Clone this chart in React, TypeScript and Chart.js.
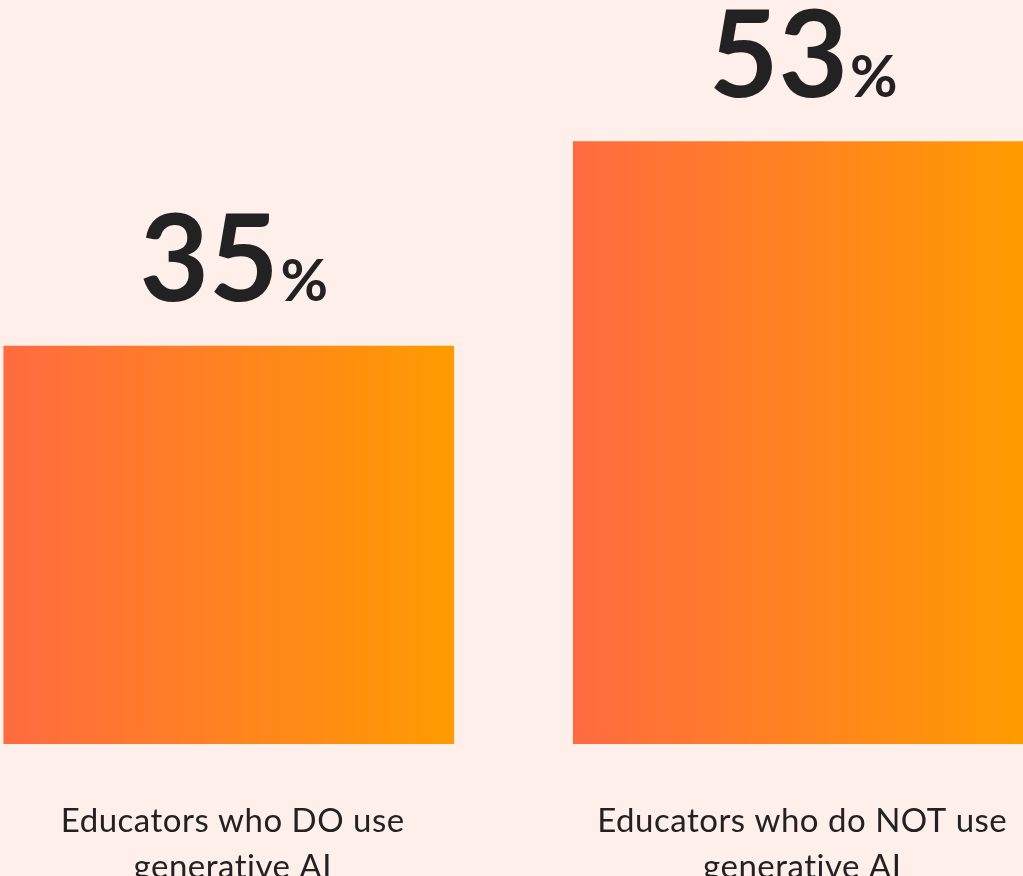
import React, { useEffect, useRef } from "react";
import { Chart, registerables } from "chart.js";

Chart.register(...registerables);

const categories: string[][] = [
  ["Educators who DO use", "generative AI"],
  ["Educators who do NOT use", "generative AI"],
];
const values: number[] = [35, 53];
const valueSuffix = "%";

const BG = "#FEEFEA";
const TEXT = "#222222";
const GRAD_START = "#FF6B40";
const GRAD_END = "#FF9B00";
const BAR_THICKNESS = 450;

const labelsPlugin = {
  id: "customLabels",
  afterDatasetsDraw(chart: any) {
    const ctx = chart.ctx;
    const meta = chart.getDatasetMeta(0);
    const area = chart.chartArea;
    ctx.save();
    ctx.fillStyle = TEXT;
    meta.data.forEach((bar: any, i: number) => {
      const cx = bar.x;
      // value label
      const num = String(values[i]);
      ctx.font = "bold 120px Lato";
      const wNum = ctx.measureText(num).width;
      ctx.font = "bold 58px Lato";
      const wPct = ctx.measureText(valueSuffix).width;
      const total = wNum + wPct + 2;
      const startX = cx - total / 2 + 5;
      const baseY = bar.y - 45;
      ctx.textAlign = "left";
      ctx.textBaseline = "alphabetic";
      ctx.font = "bold 120px Lato";
      ctx.fillText(num, startX, baseY);
      ctx.font = "bold 58px Lato";
      ctx.fillText(valueSuffix, startX + wNum + 2, baseY);
      // category label
      ctx.font = "33px Lato";
      if ("letterSpacing" in ctx) (ctx as any).letterSpacing = "0.5px";
      ctx.textAlign = "center";
      categories[i].forEach((line, j) => {
        ctx.fillText(line, cx + 4, area.bottom + 88 + j * 46);
      });
      if ("letterSpacing" in ctx) (ctx as any).letterSpacing = "0px";
    });
    ctx.restore();
  },
};

export default function App() {
  const ref = useRef<HTMLCanvasElement | null>(null);
  useEffect(() => {
    if (!ref.current) return;
    const chart = new Chart(ref.current, {
      type: "bar",
      data: {
        labels: categories.map((c) => c.join(" ")),
        datasets: [
          {
            data: values,
            barThickness: BAR_THICKNESS,
            borderWidth: 0,
            backgroundColor: (c: any) => {
              const ch = c.chart;
              if (!ch.chartArea || !ch.scales.x) return GRAD_START;
              const x = ch.scales.x.getPixelForValue(c.dataIndex);
              const g = ch.ctx.createLinearGradient(x - BAR_THICKNESS / 2, 0, x + BAR_THICKNESS / 2, 0);
              g.addColorStop(0, GRAD_START);
              g.addColorStop(1, GRAD_END);
              return g;
            },
          },
        ],
      },
      options: {
        animation: false,
        responsive: false,
        maintainAspectRatio: false,
        layout: { padding: { top: 0, bottom: 132, left: 0, right: 0 } },
        plugins: { legend: { display: false }, tooltip: { enabled: false } },
        scales: {
          x: { display: false, offset: true },
          y: { display: false, min: 0, max: 65.46 },
        },
      },
      plugins: [labelsPlugin],
    });
    return () => chart.destroy();
  }, []);
  return (
    <div
      style={{
        position: "absolute",
        left: 0,
        top: 0,
        width: 1023,
        height: 876,
        overflow: "hidden",
        background: BG,
      }}
    >
      <canvas
        ref={ref}
        width={1139}
        height={876}
        style={{ position: "absolute", left: -56, top: 0, width: 1139, height: 876 }}
      />
    </div>
  );
}
